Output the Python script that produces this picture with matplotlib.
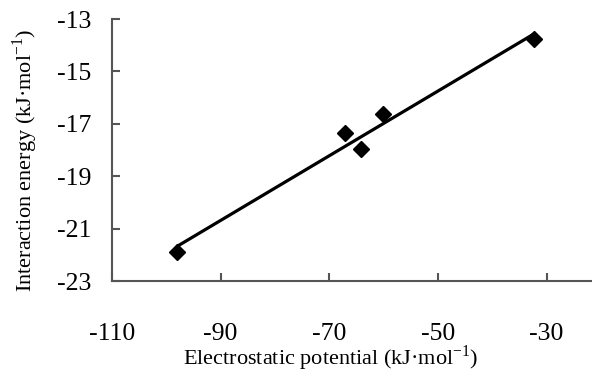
import numpy as np
import matplotlib
matplotlib.use("Agg")
import matplotlib.pyplot as plt

# Data
potential = [-67.1, -64.2, -60.1, -32.3, -98.1]
energy = [-17.36, -17.97, -16.63, -13.77, -21.88]
x_ticks = [-110, -90, -70, -50, -30]
y_ticks = [-23, -21, -19, -17, -15, -13]

plt.rcParams['font.family'] = ['Liberation Serif', 'DejaVu Serif']
plt.rcParams['mathtext.fontset'] = 'custom'
plt.rcParams['mathtext.rm'] = 'Liberation Serif'
plt.rcParams['axes.unicode_minus'] = False

fig = plt.figure(figsize=(5.92, 3.72), dpi=100)
W, H = 592, 372
left, right, top, bottom = 112, 601, 19, 281
aw, ah = right - left, bottom - top
ax = fig.add_axes([left / W, (H - bottom) / H, aw / W, ah / H])

ax.plot(potential, energy, linestyle='none', marker='D', markersize=8.5,
        color='black', zorder=3)

# linear trend line
coef = np.polyfit(potential, energy, 1)
xs = np.array([min(potential), max(potential)])
ax.plot(xs, np.polyval(coef, xs), color='black', linewidth=2.3, zorder=2,
        solid_capstyle='butt')

ax.set_xlim(-110, -20)
ax.set_ylim(-23, -13)
ax.set_xticks(x_ticks)
ax.set_yticks(y_ticks)

for s in ['top', 'right']:
    ax.spines[s].set_visible(False)
for s in ['left', 'bottom']:
    ax.spines[s].set_color('#555555')
    ax.spines[s].set_linewidth(1.5)

ax.tick_params(axis='both', direction='in', length=6, width=1.5, color='#555555',
               labelsize=18.5, labelcolor='black')
ax.tick_params(axis='x', pad=30)
ax.tick_params(axis='y', pad=15)

ax.set_xlabel('Electrostatic potential (kJ·mol$^{\\mathregular{-1}}$)', fontsize=16,
              va='center')
ax.xaxis.set_label_coords((331 - left) / aw, (bottom - 358) / ah)
ax.set_ylabel('Interaction energy (kJ·mol$^{\\mathregular{-1}}$)', fontsize=16,
              va='center')
ax.yaxis.set_label_coords((25 - left) / aw, (bottom - 160) / ah)

fig.savefig('out.png', dpi=100)
